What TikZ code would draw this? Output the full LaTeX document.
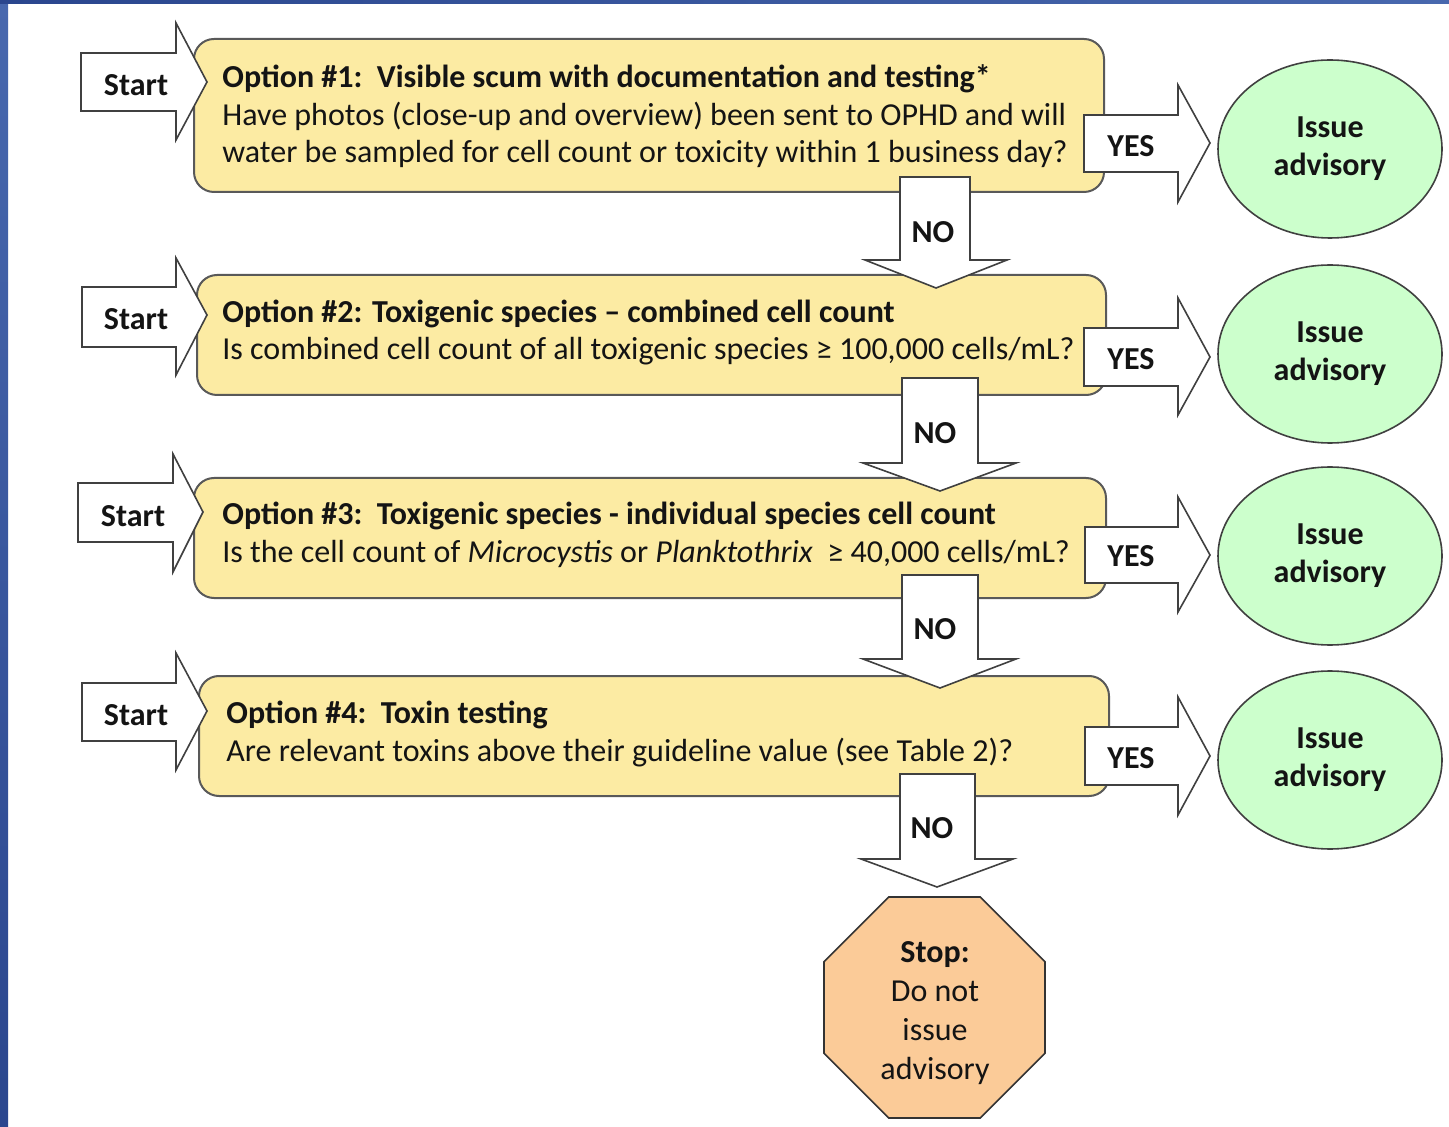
\documentclass[tikz,border=0pt]{standalone}
\usepackage{fontspec}
\setmainfont{Carlito}
\usetikzlibrary{shapes.geometric}
\definecolor{boxyellow}{HTML}{FCEBA3}
\definecolor{advgreen}{HTML}{CCFFCC}
\definecolor{stoporange}{HTML}{FBCB98}
\definecolor{bgblueA}{HTML}{2A468E}
\definecolor{bgblueB}{HTML}{4868AE}
% right-pointing block arrow: tail x, shaft top, shaft bottom, head x, head top, head bottom, tip x, tip y
\newcommand{\RArrow}[8]{\draw[blk] (#1,#2) -- (#4,#2) -- (#4,#5) -- (#7,#8) -- (#4,#6) -- (#4,#3) -- (#1,#3) -- cycle;}
% down-pointing block arrow: shaft left, shaft right, top, head y, head left, head right, tip x, tip y
\newcommand{\DArrow}[8]{\draw[blk] (#1,#3) -- (#2,#3) -- (#2,#4) -- (#6,#4) -- (#7,#8) -- (#5,#4) -- (#1,#4) -- cycle;}
\begin{document}
\begin{tikzpicture}[x=0.5pt,y=-0.5pt,
  every node/.style={font=\fontsize{16pt}{18.8pt}\selectfont, text=black!92},
  optbox/.style={draw=black!65, line width=1pt, fill=boxyellow, rounded corners=10pt, anchor=north west, inner sep=0pt},
  opttext/.style={anchor=west, align=left, inner sep=0pt},
  blk/.style={draw=black!75, line width=0.8pt, fill=white, line join=miter},
  lbl/.style={font=\fontsize{16pt}{18.8pt}\selectfont\bfseries, inner sep=0pt},
  adv/.style={ellipse, draw=black!75, line width=0.8pt, fill=advgreen, minimum width=112pt, minimum height=89pt, inner sep=0pt, align=center, font=\fontsize{16pt}{19pt}\selectfont\bfseries},
  stopbox/.style={regular polygon, regular polygon sides=8, draw=black!80, line width=0.8pt, fill=stoporange, minimum size=119.6pt, inner sep=0pt},
  stoptext/.style={align=center, inner sep=0pt, font=\fontsize{16pt}{19.4pt}\selectfont}
]
\useasboundingbox (0,0) rectangle (1449,1127);
\fill[white] (0,0) rectangle (1449,1127);
\shade[top color=bgblueB, bottom color=bgblueA] (0,0) rectangle (8,1127);
\shade[left color=bgblueA, right color=bgblueB] (0,0) rectangle (1449,4);

% option boxes
\node[optbox, minimum width=455pt, minimum height=76.5pt] (o1) at (193,38) {};
\node[optbox, minimum width=454.5pt, minimum height=60pt] (o2) at (196,274) {};
\node[optbox, minimum width=456pt, minimum height=60pt] (o3) at (193,477) {};
\node[optbox, minimum width=455pt, minimum height=60pt] (o4) at (198,675) {};

% start arrows
\RArrow{81}{53}{111}{176}{23}{140}{207}{82}
\RArrow{82}{287}{347}{176}{258}{375}{207}{315}
\RArrow{78}{483}{542}{173}{454}{572}{203}{512}
\RArrow{82}{683}{741}{176}{653}{770}{207}{711}

% yes arrows
\RArrow{1084}{115}{172}{1178}{85}{202}{1210}{143}
\RArrow{1084}{328}{386}{1178}{298}{415}{1210}{357}
\RArrow{1085}{527}{583}{1178}{497}{612}{1210}{555}
\RArrow{1085}{727}{785}{1178}{697}{815}{1210}{756}

% no arrows
\DArrow{900}{970}{177}{260}{865}{1007}{936}{288}
\DArrow{902}{978}{378}{463}{863}{1016}{940}{491}
\DArrow{902}{978}{575}{659}{863}{1016}{940}{688}
\DArrow{900}{975}{774}{859}{861}{1013}{937}{887}

% option texts
\node[opttext] (t1) at (222,116.5) {\textbf{Option \#1:\ \ Visible scum with documentation and testing*}\\Have photos (close-up and overview) been sent to OPHD and will\\water be sampled for cell count or toxicity within 1 business day?};
\node[opttext] (t2) at (222,332.5) {\textbf{Option \#2: Toxigenic species – combined cell count}\\Is combined cell count of all toxigenic species ≥ 100,000 cells/mL?};
\node[opttext] (t3) at (222,535) {\textbf{Option \#3:\ \ Toxigenic species - individual species cell count}\\Is the cell count of \textit{Microcystis} or \textit{Planktothrix}\ \ ≥ 40,000 cells/mL?};
\node[opttext] (t4) at (226,734) {\textbf{Option \#4:\ \ Toxin testing}\\Are relevant toxins above their guideline value (see Table 2)?};

% labels
\node[lbl] (s1) at (136,85) {Start};
\node[lbl] (s2) at (136,319) {Start};
\node[lbl] (s3) at (133,516) {Start};
\node[lbl] (s4) at (136,715) {Start};
\node[lbl] (y1) at (1131,146) {YES};
\node[lbl] (y2) at (1131,359) {YES};
\node[lbl] (y3) at (1131,556) {YES};
\node[lbl] (y4) at (1131,758) {YES};
\node[lbl] (n1) at (933,232) {NO};
\node[lbl] (n2) at (935,433) {NO};
\node[lbl] (n3) at (935,629) {NO};
\node[lbl] (n4) at (932,828) {NO};

% outcomes
\node[adv] (a1) at (1330,149) {Issue\\advisory};
\node[adv] (a2) at (1330,354) {Issue\\advisory};
\node[adv] (a3) at (1330,556) {Issue\\advisory};
\node[adv] (a4) at (1330,760) {Issue\\advisory};
\node[stopbox] (stop) at (934.5,1007.5) {};
\node[stoptext] (stoplbl) at (935,1013) {\textbf{Stop:}\\Do not\\issue\\advisory};
\end{tikzpicture}
\end{document}
